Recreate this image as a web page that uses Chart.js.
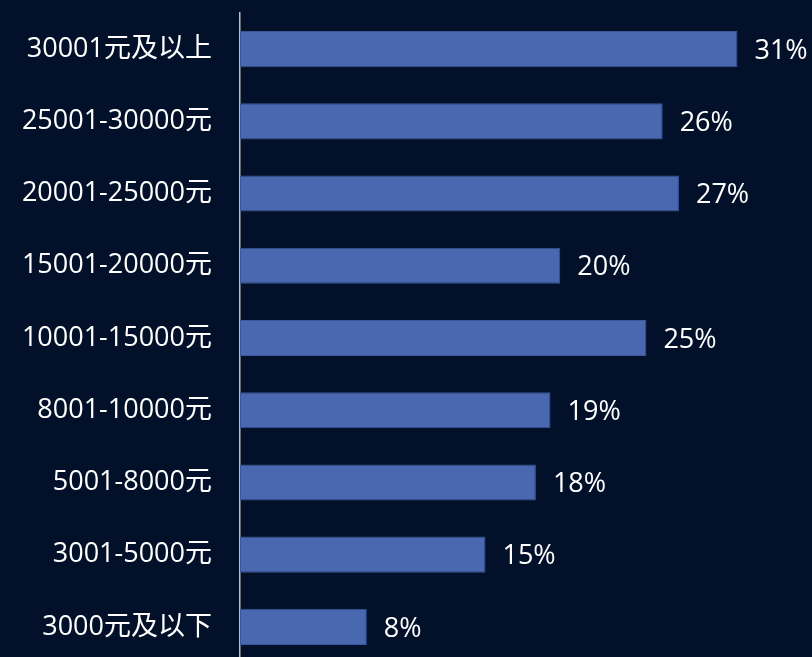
<!DOCTYPE html>
<html>
<head>
<meta charset="utf-8">
<script src="https://cdn.jsdelivr.net/npm/chart.js@4/dist/chart.umd.min.js"></script>
<style>
  html, body { margin: 0; padding: 0; background: #021129; overflow: hidden; }
</style>
</head>
<body>
<canvas id="income-canvas" width="812" height="663"></canvas>
<script>
const categories = ['30001元及以上', '25001-30000元', '20001-25000元', '15001-20000元', '10001-15000元', '8001-10000元', '5001-8000元', '3001-5000元', '3000元及以下'];
const shares = [30.6, 26.0, 27.0, 19.7, 25.0, 19.1, 18.2, 15.1, 7.8];

const fontFamily = '"Open Sans", "Noto Sans CJK SC", sans-serif';

// draws the "31%" style labels right of each bar
const valueLabels = {
  id: 'valueLabels',
  afterDatasetsDraw: function(chart){
    const ctx = chart.ctx;
    const meta = chart.getDatasetMeta(0);
    ctx.save();
    ctx.fillStyle = '#ffffff';
    ctx.font = '27px ' + fontFamily;
    ctx.textAlign = 'left';
    ctx.textBaseline = 'middle';
    meta.data.forEach(function(bar, i){
      ctx.fillText(Math.round(shares[i]) + '%', bar.x + 17, bar.y + 2);
    });
    ctx.restore();
  }
};

const ctx = document.getElementById('income-canvas');
const myChart = new Chart(ctx, {
  type: 'bar',
  plugins: [valueLabels],
  data: {
    labels: categories,
    datasets: [{
      data: shares,
      backgroundColor: '#4a68b0',
      borderColor: '#3b5799',
      borderWidth: 1,
      borderSkipped: false,
      barPercentage: 0.5,
      categoryPercentage: 1.0
    }]
  },
  options: {
    indexAxis: 'y',
    responsive: false,
    animation: false,
    layout: {
      padding: { top: 13, right: 3, bottom: 0, left: 0 }
    },
    plugins: {
      legend: false,
      tooltip: { enabled: false }
    },
    scales: {
      x: {
        display: false,
        min: 0,
        max: 35
      },
      y: {
        afterFit: function(scale){
          scale.width = 240;
          // tick padding would otherwise push the plot area down
          scale.paddingTop = 0;
          scale.paddingBottom = 0;
        },
        grid: { display: false },
        border: { display: true, color: '#c0c0c0', width: 1.5 },
        ticks: {
          color: '#ffffff',
          padding: 20,
          font: { size: 27, family: fontFamily }
        }
      }
    }
  }
});
</script>
</body>
</html>
